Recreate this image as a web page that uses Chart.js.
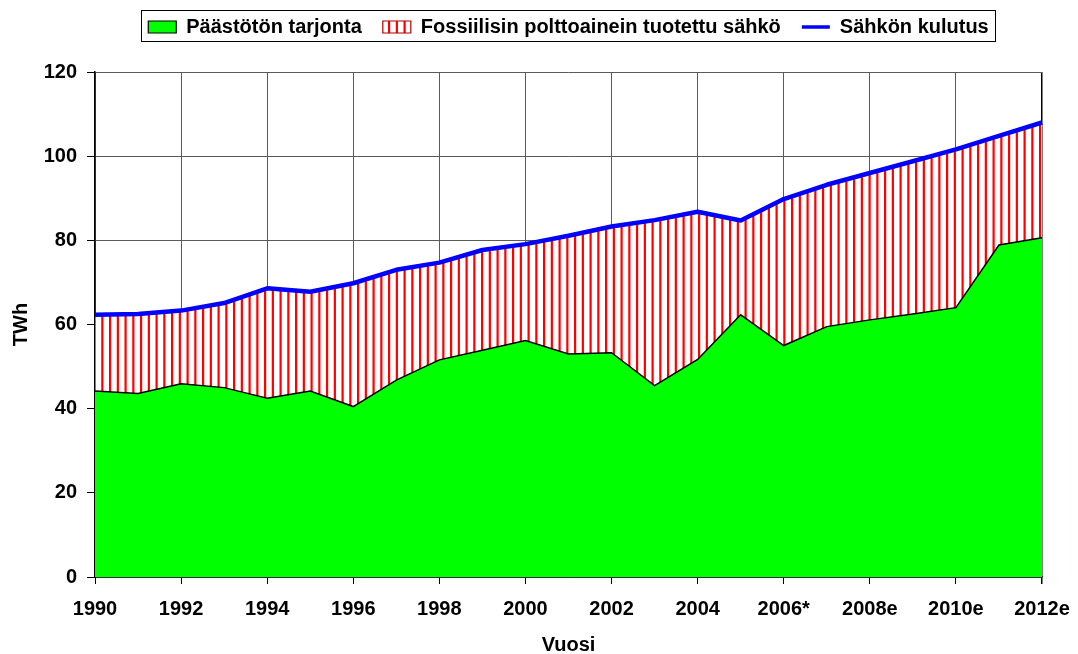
<!DOCTYPE html>
<html lang="fi">
<head>
    <meta charset="UTF-8">
    <title>Sähkön kulutus ja päästötön tarjonta</title>
    <script src="https://cdn.jsdelivr.net/npm/chart.js"></script>
    <style>
        body { margin: 0; background: #fff; }
        #chart { display: block; }
    </style>
</head>
<body>
    <canvas id="chart" width="1078" height="654"></canvas>
    <script>
        // values (TWh)
        const years = ["1990", "1991", "1992", "1993", "1994", "1995", "1996", "1997", "1998", "1999",
            "2000", "2001", "2002", "2003", "2004", "2005", "2006*", "2007e", "2008e", "2009e",
            "2010e", "2011e", "2012e"];
        const emissionFree = [44.2, 43.6, 45.9, 45.0, 42.5, 44.2, 40.5, 46.8, 51.6, 53.9,
            56.2, 53.0, 53.3, 45.5, 51.7, 62.3, 55.0, 59.5, 61.1, 62.5,
            64.0, 78.9, 80.6];
        const consumption = [62.3, 62.5, 63.3, 65.1, 68.6, 67.8, 69.8, 73.0, 74.7, 77.7,
            79.1, 81.1, 83.3, 84.8, 86.8, 84.7, 89.8, 93.2, 96.0, 98.8,
            101.6, 104.8, 108.0];
        const seriesNames = ["Päästötön tarjonta", "Fossiilisin polttoainein tuotettu sähkö", "Sähkön kulutus"];

        const FONT = "'Liberation Sans', Arial, sans-serif";

        // vertical red stripes on white for the fossil band
        function stripePattern() {
            const c = document.createElement("canvas");
            c.width = 31;
            c.height = 4;
            const g = c.getContext("2d");
            g.fillStyle = "#ffffff";
            g.fillRect(0, 0, 31, 4);
            g.fillStyle = "#ff0000";
            for (let k = 0; k < 4; k++) {
                g.fillRect(k * 7.75 + 0.5, 0, 2.2, 4);
            }
            return g.createPattern(c, "repeat");
        }

        const legendFrame = {
            id: "legendFrame",
            afterDraw(chart) {
                const boxes = chart.legend && chart.legend.legendHitBoxes;
                if (!boxes || !boxes.length) return;
                let l = Infinity, r = -Infinity, t = Infinity, b = -Infinity;
                boxes.forEach(h => {
                    l = Math.min(l, h.left);
                    r = Math.max(r, h.left + h.width);
                    t = Math.min(t, h.top);
                    b = Math.max(b, h.top + h.height);
                });
                const ctx = chart.ctx;
                ctx.save();
                ctx.strokeStyle = "#000";
                ctx.lineWidth = 1;
                ctx.strokeRect(Math.round(l - 7) + 0.5, Math.round(t - 7) + 0.5,
                    Math.round(r - l + 14), Math.round(b - t + 11));
                ctx.restore();
            }
        };

        const lastIndex = years.length - 1;

        new Chart(document.getElementById("chart"), {
            type: "line",
            data: {
                labels: years,
                datasets: [
                    {
                        label: seriesNames[0],
                        data: emissionFree,
                        fill: "origin",
                        backgroundColor: "#00ff00",
                        borderColor: "#000000",
                        borderWidth: 1.5,
                        pointRadius: 0,
                        pointStyle: "rect",
                        tension: 0
                    },
                    {
                        label: seriesNames[1],
                        data: consumption,
                        fill: "-1",
                        backgroundColor: stripePattern(),
                        borderColor: "rgba(0,0,0,0)",
                        borderWidth: 0,
                        pointRadius: 0,
                        pointStyle: "rect",
                        tension: 0
                    },
                    {
                        label: seriesNames[2],
                        data: consumption,
                        fill: false,
                        borderColor: "#0000ff",
                        backgroundColor: "#0000ff",
                        borderWidth: 4.5,
                        borderJoinStyle: "round",
                        pointRadius: 0,
                        pointStyle: "line",
                        tension: 0
                    }
                ]
            },
            options: {
                responsive: false,
                animation: false,
                layout: { padding: { top: -4, right: 36, bottom: 0, left: 0 } },
                plugins: {
                    filler: { drawTime: "beforeDatasetsDraw" },
                    tooltip: { enabled: false },
                    title: {
                        display: true,
                        text: "",
                        fullSize: false,
                        weight: 500,
                        font: { size: 10, lineHeight: 1 },
                        padding: { top: 0, bottom: 15 }
                    },
                    legend: {
                        position: "top",
                        fullSize: false,
                        labels: {
                            usePointStyle: true,
                            pointStyleWidth: 28,
                            boxHeight: 12,
                            padding: 21,
                            color: "#000",
                            font: { family: FONT, size: 20, weight: "bold" },
                            generateLabels(chart) {
                                const items = Chart.defaults.plugins.legend.labels.generateLabels(chart);
                                items.forEach(it => {
                                    if (it.datasetIndex === 0) { it.strokeStyle = "#000"; it.lineWidth = 1.2; }
                                    if (it.datasetIndex === 1) { it.strokeStyle = "#b00000"; it.lineWidth = 1.2; }
                                    if (it.datasetIndex === 2) { it.strokeStyle = "#0000ff"; it.lineWidth = 3.5; }
                                });
                                return items;
                            }
                        }
                    }
                },
                scales: {
                    x: {
                        offset: false,
                        afterFit(scale) {
                            scale.height = 77;
                            scale.paddingLeft = 0;
                            scale.paddingRight = 0;
                        },
                        grid: {
                            color: c => c.index === lastIndex ? "#000" : (c.index % 2 === 0 ? "#5a5a5a" : "rgba(0,0,0,0)"),
                            lineWidth: c => c.index === lastIndex ? 1.5 : 1,
                            tickColor: c => c.index % 2 === 0 ? "#000" : "rgba(0,0,0,0)",
                            tickLength: 7,
                            drawOnChartArea: true
                        },
                        border: { color: "#000", width: 1.5 },
                        ticks: {
                            autoSkip: false,
                            maxRotation: 0,
                            padding: 13,
                            color: "#000",
                            font: { family: FONT, size: 20, weight: "bold" },
                            callback: (v, i) => (i % 2 === 0 ? years[i] : "")
                        },
                        title: {
                            display: true,
                            text: "Vuosi",
                            color: "#000",
                            font: { family: FONT, size: 20, weight: "bold", lineHeight: 1.2 },
                            padding: { top: 0, bottom: -3 }
                        }
                    },
                    y: {
                        min: 0,
                        max: 120,
                        afterFit(scale) { scale.width = 95; },
                        grid: {
                            color: "#5a5a5a",
                            lineWidth: 1,
                            tickColor: "#000",
                            tickLength: 8
                        },
                        border: { color: "#000", width: 1.5 },
                        ticks: {
                            stepSize: 20,
                            padding: 10,
                            color: "#000",
                            font: { family: FONT, size: 20, weight: "bold" }
                        },
                        title: {
                            display: true,
                            text: "TWh",
                            color: "#000",
                            font: { family: FONT, size: 20, weight: "bold", lineHeight: 1.2 },
                            padding: { top: 9, bottom: 0 }
                        }
                    }
                }
            },
            plugins: [legendFrame]
        });
    </script>
</body>
</html>
